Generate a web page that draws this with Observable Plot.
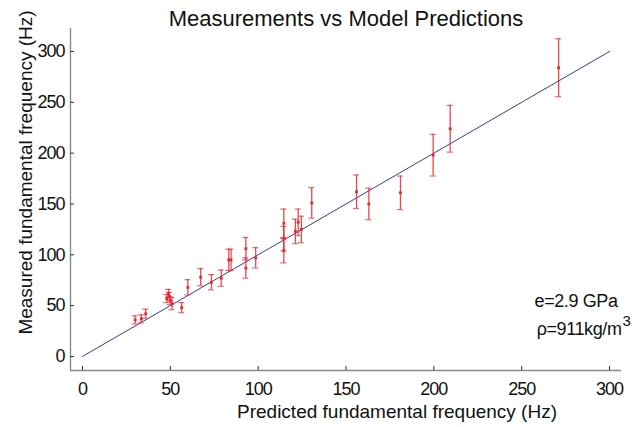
<!DOCTYPE html>
<html>
<head>
<meta charset="utf-8">
<script src="https://cdn.jsdelivr.net/npm/d3@7"></script>
<script src="https://cdn.jsdelivr.net/npm/@observablehq/plot@0.6"></script>
<style>
  html, body { margin: 0; padding: 0; background: #fff; }
  svg { font-family: "Liberation Sans", Arial, sans-serif; }
  g[aria-label$="tick label"] text { letter-spacing: -1px; }
  .annot text { letter-spacing: -0.4px; }
</style>
</head>
<body>
<div id="chart"></div>
<script>
// Predicted fundamental frequency (Hz)
const predicted = [30, 33.5, 36, 48, 49, 49.5, 50, 51, 56.5, 60, 67.3, 73.4, 79, 83.3, 84.6, 93, 93, 98.6,
  114.6, 114.6, 114.6, 121.2, 122.8, 124.6, 130.5, 156, 163, 181, 199.6, 209.3, 271];
// Measured fundamental frequency (Hz)
const measured = [36, 37, 42, 57, 62, 59, 55, 52, 48, 68, 78, 73, 77, 95, 95, 106, 87, 97,
  131, 116, 104, 123, 132, 125, 151, 162, 150, 161, 198, 224, 284];
// Error (half-height of bar)
const errors = [4, 4, 4.5, 4, 4, 4, 4, 6, 5, 7.5, 8.5, 7.5, 8, 10.5, 10.5, 11, 10, 10,
  14, 12, 12, 12, 13, 13, 15, 16.5, 15.5, 16.5, 20.5, 23, 28.5];
// model line y = x
const modelLine = [0, 300];
const xTicks = [0, 50, 100, 150, 200, 250, 300];
const yTicks = [0, 50, 100, 150, 200, 250, 300];
const xDomain = [-6.8, 306.8];
const yDomain = [-13.8, 322.6];

const data = predicted.map((p, i) => ({x: p, y: measured[i], e: errors[i]}));

const red = "#e8282e";
const axisGray = "#8a8a8a";
const capHalf = 1.7;
const tickLenX = 4 * (yDomain[1] - yDomain[0]) / 342;
const tickLenY = 4 * (xDomain[1] - xDomain[0]) / 551;

const chart = Plot.plot({
  width: 637,
  height: 427,
  marginLeft: 70,
  marginRight: 16,
  marginTop: 28,
  marginBottom: 57,
  style: {fontFamily: "'Liberation Sans', Arial, sans-serif", background: "#fff", color: "#111", overflow: "visible"},
  x: {domain: xDomain, axis: null},
  y: {domain: yDomain, axis: null},
  marks: [
    // axis lines
    Plot.ruleX([xDomain[0]], {stroke: axisGray, strokeWidth: 1.4}),
    Plot.ruleY([yDomain[0]], {stroke: axisGray, strokeWidth: 1.4}),
    // inward ticks
    Plot.ruleX(xTicks, {x: d => d, y1: yDomain[0], y2: yDomain[0] + tickLenX, stroke: "#333", strokeWidth: 1}),
    Plot.ruleY(yTicks, {y: d => d, x1: xDomain[0], x2: xDomain[0] + tickLenY, stroke: "#333", strokeWidth: 1}),
    // tick labels
    Plot.axisX({ticks: xTicks, tickSize: 0, tickPadding: 12, fontSize: 18, anchor: "bottom", label: null, tickFormat: d => String(d)}),
    Plot.axisY({ticks: yTicks, tickSize: 0, tickPadding: 6, fontSize: 18, anchor: "left", label: null, tickFormat: d => String(d)}),
    // model line
    Plot.line(modelLine, {x: d => d, y: d => d, stroke: "#3838a8", strokeWidth: 1}),
    // error bars
    Plot.ruleX(data, {x: "x", y1: d => d.y - d.e, y2: d => d.y + d.e, stroke: red, strokeWidth: 1.3, strokeOpacity: 0.85}),
    Plot.ruleY(data, {y: d => d.y + d.e, x1: d => d.x - capHalf, x2: d => d.x + capHalf, stroke: red, strokeWidth: 1.2, strokeOpacity: 0.7}),
    Plot.ruleY(data, {y: d => d.y - d.e, x1: d => d.x - capHalf, x2: d => d.x + capHalf, stroke: red, strokeWidth: 1.2, strokeOpacity: 0.7}),
    Plot.dot(data, {x: "x", y: "y", symbol: "square", r: 1.6, fill: red, stroke: null}),
    // title and axis labels
    Plot.text(["Measurements vs Model Predictions"], {frameAnchor: "top", dy: -10, fontSize: 22, fill: "#111", lineAnchor: "middle"}),
    Plot.text(["Predicted fundamental frequency (Hz)"], {frameAnchor: "bottom", dx: 51, dy: 41, fontSize: 19, fill: "#111", lineAnchor: "middle"}),
    Plot.text(["Measured fundamental frequency (Hz)"], {frameAnchor: "left", dx: -45, dy: -27, rotate: -90, textAnchor: "middle", fontSize: 19, fill: "#111", lineAnchor: "middle"}),
    // annotation
    Plot.text(["e=2.9 GPa"], {frameAnchor: "bottom-right", dx: -4, dy: -69, textAnchor: "end", fontSize: 18, fill: "#111", lineAnchor: "middle", className: "annot"}),
    Plot.text(["ρ=911kg/m"], {frameAnchor: "bottom-right", dx: 0, dy: -41, textAnchor: "end", fontSize: 18, fill: "#111", lineAnchor: "middle", fontFamily: "Arial, 'Liberation Sans', sans-serif", className: "annot"}),
    Plot.text(["3"], {frameAnchor: "bottom-right", dx: 1, dy: -49, textAnchor: "start", fontSize: 15, fill: "#111", lineAnchor: "middle"})
  ]
});
document.getElementById("chart").appendChild(chart);
</script>
</body>
</html>
